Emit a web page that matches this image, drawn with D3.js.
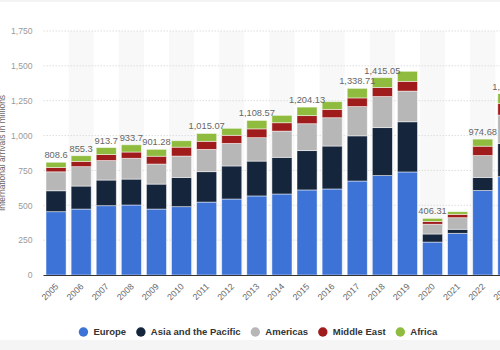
<!DOCTYPE html>
<html>
<head>
<meta charset="utf-8">
<script src="https://cdn.jsdelivr.net/npm/d3@7"></script>
<style>
body{margin:0;background:#fff;}
svg{display:block;font-family:"Liberation Sans",Arial,sans-serif;}
</style>
</head>
<body>
<svg id="myGraph" width="500" height="350"></svg>
<script>
var years=["2005","2006","2007","2008","2009","2010","2011","2012","2013","2014","2015","2016","2017","2018","2019","2020","2021","2022","2023"];
var europe     =[454,473,497,502,473,490,523,545,567,581,610,617,674,713,739,236,299,606,705];
var asiaPacific=[150,165,184,186,179,210,218,237,250,263,282,308,324,344,360,58,29,94,239];
var americas   =[136,139,140,149,144,153,160,162,168,188,193,203,210,223,220,70,83,157,203];
var middleEast =[31,38,43,45,56,64,58,58,63,60,58,60,62,65,70,20,24,67,84];
var africa     =[37.6,40.3,49.7,51.7,49.28,46,56.07,50,60.57,53,61.13,55,68.71,70.05,72,22.31,19,50.68,69.3];
// labels shown above bars (null = not shown)
var totalLabels=[808.6,855.3,913.7,933.7,901.28,null,1015.07,null,1108.57,null,1204.13,null,1338.71,1415.05,null,406.31,null,974.68,1300.3];
var seriesNames=["Europe","Asia and the Pacific","Americas","Middle East","Africa"];
var seriesColors=["#3d72d6","#15253b","#b7b7b7","#a01c1c","#8fbc3f"];
var yTicks=[0,250,500,750,1000,1250,1500,1750];

window.addEventListener("load",function(){
	var svg=d3.select("#myGraph");
	var left=43.5, top=31, bottom=275;
	var step=25.1;

	var x=d3.scaleBand().domain(years).range([left,left+step*years.length]).paddingInner(0.2).paddingOuter(0.1);
	var y=d3.scaleLinear().domain([0,1750]).range([bottom,top]);

	// top line and footer strip
	svg.append("rect").attr("x",0).attr("y",0).attr("width",500).attr("height",2).attr("fill","#f3f3f3");
	svg.append("rect").attr("x",0).attr("y",340).attr("width",500).attr("height",10).attr("fill","#f5f5f5");

	// alternating column shading
	svg.append("g").selectAll("rect")
		.data(years.filter(function(d,i){return i%2==1;}))
		.enter().append("rect")
		.attr("x",function(d){return x(d)-x.step()*0.1;})
		.attr("y",top)
		.attr("width",x.step())
		.attr("height",bottom-top)
		.attr("fill","#f8f8f8");

	// grid
	svg.append("g").selectAll("line")
		.data(yTicks.slice(1))
		.enter().append("line")
		.attr("x1",left).attr("x2",500)
		.attr("y1",function(d){return y(d);}).attr("y2",function(d){return y(d);})
		.attr("stroke","#dedede")
		.attr("stroke-dasharray","1.5,1.5");

	var yAxis=svg.append("g").attr("transform","translate("+left+",0)")
		.call(d3.axisLeft(y).tickValues(yTicks).tickSize(0).tickPadding(11).tickFormat(d3.format(",")));
	yAxis.select(".domain").remove();
	yAxis.selectAll("text").attr("fill","#9a9a9a").style("font-size","8.6px");

	// stacked bars
	var table=years.map(function(d,i){
		return {year:d,"Europe":europe[i],"Asia and the Pacific":asiaPacific[i],"Americas":americas[i],"Middle East":middleEast[i],"Africa":africa[i]};
	});
	var stack=d3.stack().keys(seriesNames)(table);

	svg.append("g").selectAll("g")
		.data(stack)
		.enter().append("g")
		.attr("fill",function(d,i){return seriesColors[i];})
		.selectAll("rect")
		.data(function(d){return d;})
		.enter().append("rect")
		.attr("x",function(d){return x(d.data.year);})
		.attr("y",function(d){return y(d[1]);})
		.attr("width",x.bandwidth())
		.attr("height",function(d){return y(d[0])-y(d[1]);})
		.attr("stroke","rgba(255,255,255,0.6)")
		.attr("stroke-width",0.8);

	// bottom axis line
	svg.append("line").attr("x1",left).attr("x2",500).attr("y1",bottom+0.5).attr("y2",bottom+0.5)
		.attr("stroke","#333").attr("stroke-width",1);

	// total labels
	svg.append("g").selectAll("text")
		.data(years.filter(function(d,i){return totalLabels[i]!=null;}))
		.enter().append("text")
		.attr("x",function(d){return x(d)+x.bandwidth()/2;})
		.attr("y",function(d){return y(totalLabels[years.indexOf(d)])-4;})
		.attr("text-anchor","middle")
		.attr("fill","#666")
		.style("font-size","9.3px")
		.text(function(d){return d3.format(",")(totalLabels[years.indexOf(d)]);});

	// x labels
	svg.append("g").selectAll("text")
		.data(years)
		.enter().append("text")
		.attr("transform",function(d){return "translate("+(x(d)+x.bandwidth()/2+3)+",287) rotate(-45)";})
		.attr("text-anchor","end")
		.attr("fill","#666")
		.style("font-size","8.8px")
		.text(function(d){return d;});

	// y title
	svg.append("text")
		.attr("transform","translate(5,153) rotate(-90)")
		.attr("text-anchor","middle")
		.attr("fill","#666")
		.style("font-size","8.5px")
		.text("International arrivals in millions");

	// legend
	var legend=svg.append("g");
	var lx=0;
	seriesNames.forEach(function(name,i){
		var g=legend.append("g").attr("transform","translate("+lx+",0)");
		g.append("circle").attr("cx",4.7).attr("cy",0).attr("r",4.7).attr("fill",seriesColors[i]);
		var t=g.append("text").attr("x",14.7).attr("y",3.3).attr("fill","#333")
			.style("font-size","9.5px").style("font-weight","bold").text(name);
		lx+=14.7+t.node().getComputedTextLength()+10;
	});
	legend.attr("transform","translate("+(258-(lx-10)/2)+",332)");
});
</script>
</body>
</html>
